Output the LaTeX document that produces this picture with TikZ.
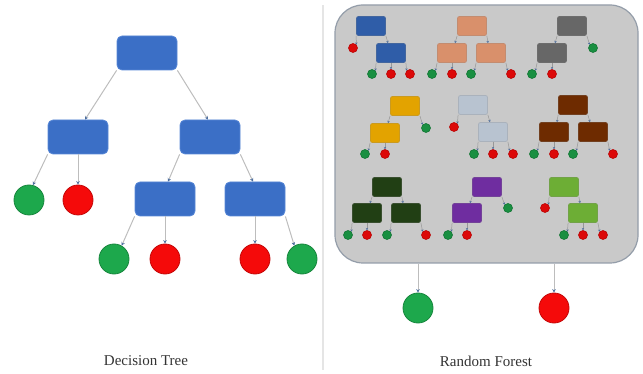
\documentclass[tikz,border=0pt]{standalone}
\usepackage{fontspec}
\setmainfont{Liberation Serif}
\usepackage{tikz}
\usetikzlibrary{arrows.meta}

\definecolor{boxblue}{HTML}{3B6FC6}
\definecolor{boxline}{HTML}{5887D6}
\definecolor{yesgreen}{HTML}{1DA84C}
\definecolor{nored}{HTML}{F50A0A}
\definecolor{linkgray}{HTML}{BDBDBD}
\definecolor{tipblue}{HTML}{4D6E9E}
\definecolor{framefill}{HTML}{C9C9C9}
\definecolor{frameline}{HTML}{949DA9}
\definecolor{textgray}{HTML}{333333}
\definecolor{treeA}{HTML}{2F5DA8}
\definecolor{treeB}{HTML}{D9906B}
\definecolor{treeC}{HTML}{676767}
\definecolor{treeD}{HTML}{E3A300}
\definecolor{treeE}{HTML}{B8C3D0}
\definecolor{treeF}{HTML}{6E2B00}
\definecolor{treeG}{HTML}{213F14}
\definecolor{treeH}{HTML}{6F2DA0}
\definecolor{treeI}{HTML}{6DAE35}

\begin{document}
\begin{tikzpicture}[x=1pt, y=-1pt]
		\tikzstyle{box}=[draw=boxline, fill=boxblue, rounded corners=5pt, minimum width=60pt, minimum height=34pt, inner sep=0pt, line width=0.8pt]
		\tikzstyle{yes}=[draw=yesgreen!80!black, fill=yesgreen, circle, minimum size=30pt, inner sep=0pt, line width=0.8pt]
		\tikzstyle{no}=[draw=nored!80!black, fill=nored, circle, minimum size=30pt, inner sep=0pt, line width=0.8pt]
		\tikzstyle{link}=[draw=linkgray, line width=1pt, -{Stealth[length=3.5pt, width=3.5pt, color=tipblue]}]
		\tikzstyle{myes}=[draw=yesgreen!70!black, fill=yesgreen!85!black, circle, minimum size=9pt, inner sep=0pt, line width=0.6pt]
		\tikzstyle{mno}=[draw=nored!75!black, fill=nored!90!black, circle, minimum size=9pt, inner sep=0pt, line width=0.6pt]
		\tikzstyle{mlink}=[draw=linkgray!80!black, line width=0.5pt, -{Stealth[length=2.2pt, width=2.4pt, color=tipblue]}]
		\tikzstyle{label}=[anchor=base, text=textgray, font=\fontsize{15}{18}\selectfont]
		\tikzset{mbox/.style={draw=#1!75!gray, fill=#1, rounded corners=2pt, minimum width=29pt, minimum height=19pt, inner sep=0pt, line width=0.8pt}}

		\useasboundingbox (0,0) rectangle (643,374);

    % Decision tree
		\node[box](root) at (147,53){};
		\node[box](lc) at (78,137){};
		\node[box](rc) at (210,137){};
		\node[box](rl) at (165,199){};
		\node[box](rr) at (255,199){};

		\node[yes](l1) at (29,200){};
		\node[no](l2) at (78,200){};
		\node[yes](l3) at (114,259){};
		\node[no](l4) at (165,259){};
		\node[no](l5) at (255,259){};
		\node[yes](l6) at (302,259){};

		\draw[link] (root.south west) -- ([xshift=7pt]lc.north);
		\draw[link] (root.south east) -- ([xshift=-2pt]rc.north);
		\draw[link] (lc.south west) -- (l1.75);
		\draw[link] (lc) -- (l2);
		\draw[link] (rc.south west) -- ([xshift=3pt]rl.north);
		\draw[link] (rc.south east) -- ([xshift=-2pt]rr.north);
		\draw[link] (rl.south west) -- (l3.60);
		\draw[link] (rl) -- (l4);
		\draw[link] (rr) -- (l5);
		\draw[link] (rr.south east) -- (l6.120);

		\node[label](dtl) at (146,365.5){Decision Tree};

    % Divider
		\draw[draw=black!10, line width=1.2pt] (323,5) -- (323,370);

    % Random forest
		\node[draw=frameline, fill=framefill, rounded corners=28pt, line width=1.2pt, minimum width=303pt, minimum height=258pt](rf) at (486.5,134){};

    % First row
		\node[mbox=treeA](a0) at (371,26){};
		\node[mno](a1) at (353,48){};
		\node[mbox=treeA](a2) at (391,53){};
		\node[myes](a3) at (372,74){};
		\node[mno](a4) at (391,74){};
		\node[mno](a5) at (410,74){};
		\draw[mlink] (a0.south west) -- (a1.north east);
		\draw[mlink] (a0.south east) -- ([xshift=-3pt]a2.north);
		\draw[mlink] (a2.south west) -- (a3.north east);
		\draw[mlink] (a2.south) -- (a4.north);
		\draw[mlink] (a2.south east) -- (a5.north west);

		\node[mbox=treeB](b0) at (472,26){};
		\node[mbox=treeB](b1) at (452,53){};
		\node[mbox=treeB](b2) at (491,53){};
		\node[myes](b3) at (432,74){};
		\node[mno](b4) at (452,74){};
		\node[myes](b5) at (471,74){};
		\node[mno](b6) at (511,74){};
		\draw[mlink] (b0.south west) -- ([xshift=3pt]b1.north);
		\draw[mlink] (b0.south east) -- ([xshift=-3pt]b2.north);
		\draw[mlink] (b1.south west) -- (b3.north east);
		\draw[mlink] (b1.south) -- (b4.north);
		\draw[mlink] (b2.south west) -- (b5.north east);
		\draw[mlink] (b2.south east) -- (b6.north west);

		\node[mbox=treeC](c0) at (572,26){};
		\node[mbox=treeC](c1) at (552,53){};
		\node[myes](c2) at (593,48){};
		\node[myes](c3) at (532,74){};
		\node[mno](c4) at (552,74){};
		\draw[mlink] (c0.south west) -- ([xshift=3pt]c1.north);
		\draw[mlink] (c0.south east) -- (c2.north west);
		\draw[mlink] (c1.south west) -- (c3.north east);
		\draw[mlink] (c1.south) -- (c4.north);

    % Second row
		\node[mbox=treeD](d0) at (405,106){};
		\node[mbox=treeD](d1) at (385,133){};
		\node[myes](d2) at (426,128){};
		\node[myes](d3) at (365,154){};
		\node[mno](d4) at (385,154){};
		\draw[mlink] (d0.south west) -- ([xshift=3pt]d1.north);
		\draw[mlink] (d0.south east) -- (d2.north west);
		\draw[mlink] (d1.south west) -- (d3.north east);
		\draw[mlink] (d1.south) -- (d4.north);

		\node[mbox=treeE](e0) at (473,105){};
		\node[mno](e1) at (454,127){};
		\node[mbox=treeE](e2) at (493,132){};
		\node[myes](e3) at (474,154){};
		\node[mno](e4) at (493,154){};
		\node[mno](e5) at (513,154){};
		\draw[mlink] (e0.south west) -- (e1.north east);
		\draw[mlink] (e0.south east) -- ([xshift=-3pt]e2.north);
		\draw[mlink] (e2.south west) -- (e3.north east);
		\draw[mlink] (e2.south) -- (e4.north);
		\draw[mlink] (e2.south east) -- (e5.north west);

		\node[mbox=treeF](f0) at (573,105){};
		\node[mbox=treeF](f1) at (554,132){};
		\node[mbox=treeF](f2) at (593,132){};
		\node[myes](f3) at (534,154){};
		\node[mno](f4) at (554,154){};
		\node[myes](f5) at (573,154){};
		\node[mno](f6) at (613,154){};
		\draw[mlink] (f0.south west) -- ([xshift=3pt]f1.north);
		\draw[mlink] (f0.south east) -- ([xshift=-3pt]f2.north);
		\draw[mlink] (f1.south west) -- (f3.north east);
		\draw[mlink] (f1.south) -- (f4.north);
		\draw[mlink] (f2.south west) -- (f5.north east);
		\draw[mlink] (f2.south east) -- (f6.north west);

    % Third row
		\node[mbox=treeG](g0) at (387,187){};
		\node[mbox=treeG](g1) at (367,213){};
		\node[mbox=treeG](g2) at (406,213){};
		\node[myes](g3) at (348,235){};
		\node[mno](g4) at (367,235){};
		\node[myes](g5) at (387,235){};
		\node[mno](g6) at (426,235){};
		\draw[mlink] (g0.south west) -- ([xshift=3pt]g1.north);
		\draw[mlink] (g0.south east) -- ([xshift=-3pt]g2.north);
		\draw[mlink] (g1.south west) -- (g3.north east);
		\draw[mlink] (g1.south) -- (g4.north);
		\draw[mlink] (g2.south west) -- (g5.north east);
		\draw[mlink] (g2.south east) -- (g6.north west);

		\node[mbox=treeH](h0) at (487,187){};
		\node[mbox=treeH](h1) at (467,213){};
		\node[myes](h2) at (508,208){};
		\node[myes](h3) at (448,235){};
		\node[mno](h4) at (467,235){};
		\draw[mlink] (h0.south west) -- ([xshift=3pt]h1.north);
		\draw[mlink] (h0.south east) -- (h2.north west);
		\draw[mlink] (h1.south west) -- (h3.north east);
		\draw[mlink] (h1.south) -- (h4.north);

		\node[mbox=treeI](i0) at (564,187){};
		\node[mno](i1) at (545,208){};
		\node[mbox=treeI](i2) at (583,213){};
		\node[myes](i3) at (564,235){};
		\node[mno](i4) at (583,235){};
		\node[mno](i5) at (603,235){};
		\draw[mlink] (i0.south west) -- (i1.north east);
		\draw[mlink] (i0.south east) -- ([xshift=-3pt]i2.north);
		\draw[mlink] (i2.south west) -- (i3.north east);
		\draw[mlink] (i2.south) -- (i4.north);
		\draw[mlink] (i2.south east) -- (i5.north west);

    % Forest vote
		\node[yes](fy) at (418,308){};
		\node[no](fn) at (554,308){};
		\draw[link] (rf.south -| fy) -- (fy);
		\draw[link] (rf.south -| fn) -- (fn);

		\node[label](rfl) at (486,366){Random Forest};
  \end{tikzpicture}
\end{document}
